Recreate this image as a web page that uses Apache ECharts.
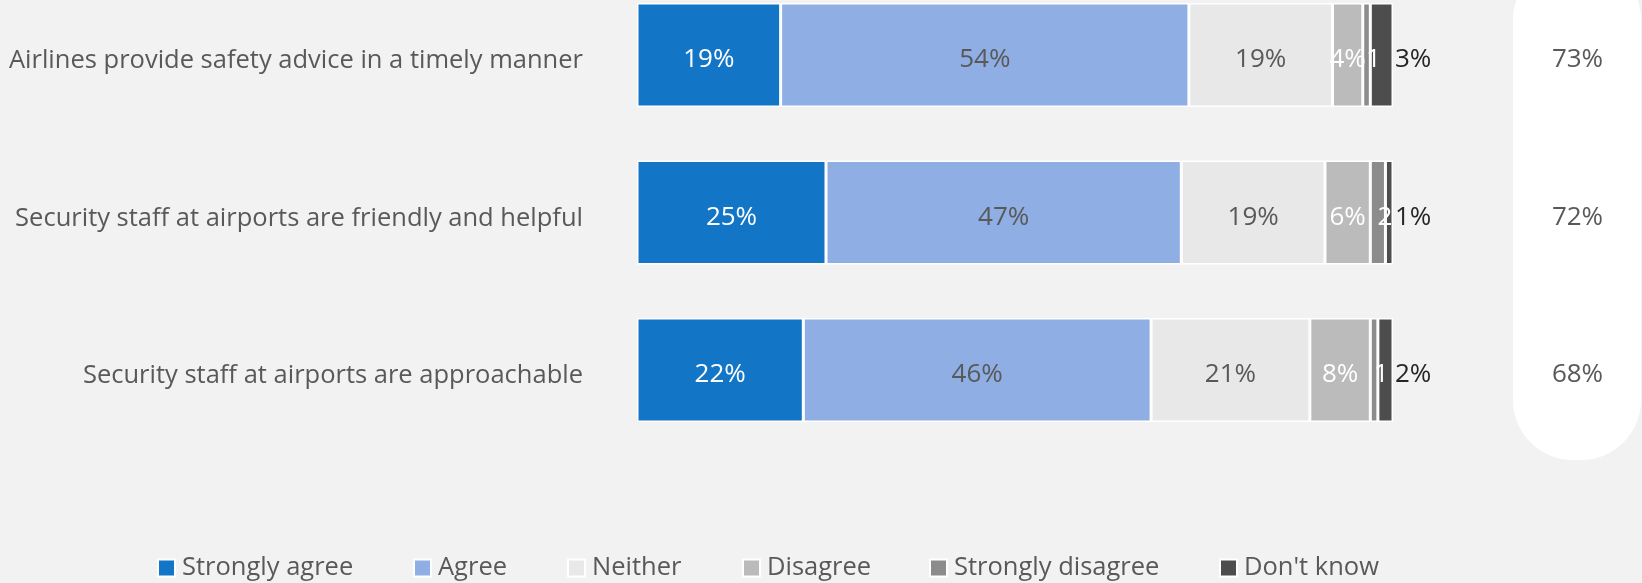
<!DOCTYPE html>
<html>
<head>
<meta charset="utf-8">
<script src="https://cdn.jsdelivr.net/npm/echarts@6/dist/echarts.min.js"></script>
<style>
html,body{margin:0;padding:0;background:#f2f2f2;}
#chart{width:1642px;height:583px;}
</style>
</head>
<body>
<div id="chart"></div>
<script>
const categories = [
  'Airlines provide safety advice in a timely manner',
  'Security staff at airports are friendly and helpful',
  'Security staff at airports are approachable'
];
const seriesNames = ['Strongly agree', 'Agree', 'Neither', 'Disagree', 'Strongly disagree', "Don't know"];
const stronglyAgree = [19, 25, 22];
const agree = [54, 47, 46];
const neither = [19, 19, 21];
const disagree = [4, 6, 8];
const stronglyDisagree = [1, 2, 1];
const dontKnow = [3, 1, 2];
const netAgree = [73, 72, 68];

const colors = ['#1375c6', '#8eaee4', '#e8e8e8', '#bbbbbb', '#8c8c8c', '#4d4d4d'];
const values = [stronglyAgree, agree, neither, disagree, stronglyDisagree, dontKnow];
const labelColors = ['#ffffff', '#595959', '#595959', '#ffffff', '#ffffff', '#262626'];
const FONT = 'Open Sans';

const chart = echarts.init(document.getElementById('chart'));

const barSeries = seriesNames.map((name, i) => {
  const label = {
    show: true,
    color: labelColors[i],
    fontFamily: FONT,
    fontSize: 26,
    formatter: '{c}%',
    offset: [0, 5]
  };
  if (i === 4) { label.formatter = '{c}'; label.offset = [7, 5]; }
  if (i === 5) { label.position = 'right'; label.distance = 2; }
  else { label.position = 'inside'; }
  return {
    name: name,
    type: 'bar',
    stack: 'total',
    barWidth: 104,
    xAxisIndex: 0,
    yAxisIndex: 0,
    itemStyle: { color: colors[i], borderColor: '#ffffff', borderWidth: 1.5 },
    label: label,
    emphasis: { disabled: true },
    data: values[i]
  };
});

const legendLefts = [152, 408, 562, 737, 924, 1214];
const legends = seriesNames.map((name, i) => ({
  data: [name],
  left: legendLefts[i],
  top: 550,
  icon: 'rect',
  itemWidth: 17,
  itemHeight: 17,
  selectedMode: false,
  textStyle: { fontFamily: FONT, fontSize: 25.5, color: '#595959', lineHeight: 22, padding: [0, 0, 0, 2] }
}));

chart.setOption({
  backgroundColor: '#f2f2f2',
  animation: false,
  graphic: [{
    type: 'rect',
    z: 0,
    silent: true,
    shape: { x: 1513, y: -40, width: 128, height: 500, r: 60 },
    style: { fill: '#ffffff' }
  }],
  legend: legends,
  grid: [
    { left: 637, width: 756, top: 55, height: 315 },
    { left: 1513, width: 129, top: 55, height: 315 }
  ],
  xAxis: [
    { type: 'value', gridIndex: 0, min: 0, max: 100, show: false },
    { type: 'value', gridIndex: 1, min: 0, max: 2, show: false }
  ],
  yAxis: [
    {
      type: 'category', gridIndex: 0, inverse: true, data: categories, boundaryGap: false,
      axisLine: { show: false }, axisTick: { show: false }, splitLine: { show: false },
      axisLabel: {
        color: '#595959', fontFamily: FONT, fontSize: 25.5, margin: 54,
        formatter: v => '{t|' + v + '}',
        rich: { t: { color: '#595959', fontFamily: FONT, fontSize: 25.5, padding: [12, 0, 0, 0] } }
      }
    },
    { type: 'category', gridIndex: 1, inverse: true, data: categories, boundaryGap: false, show: false }
  ],
  series: barSeries.concat([{
    type: 'scatter',
    xAxisIndex: 1,
    yAxisIndex: 1,
    symbolSize: 0,
    silent: true,
    z: 5,
    itemStyle: { opacity: 1 },
    label: {
      show: true,
      position: 'inside',
      color: '#595959',
      opacity: 1,
      fontFamily: FONT,
      fontSize: 26,
      offset: [0, 5],
      formatter: p => p.value[2] + '%'
    },
    data: netAgree.map((v, i) => [1, categories[i], v])
  }])
});
</script>
</body>
</html>
